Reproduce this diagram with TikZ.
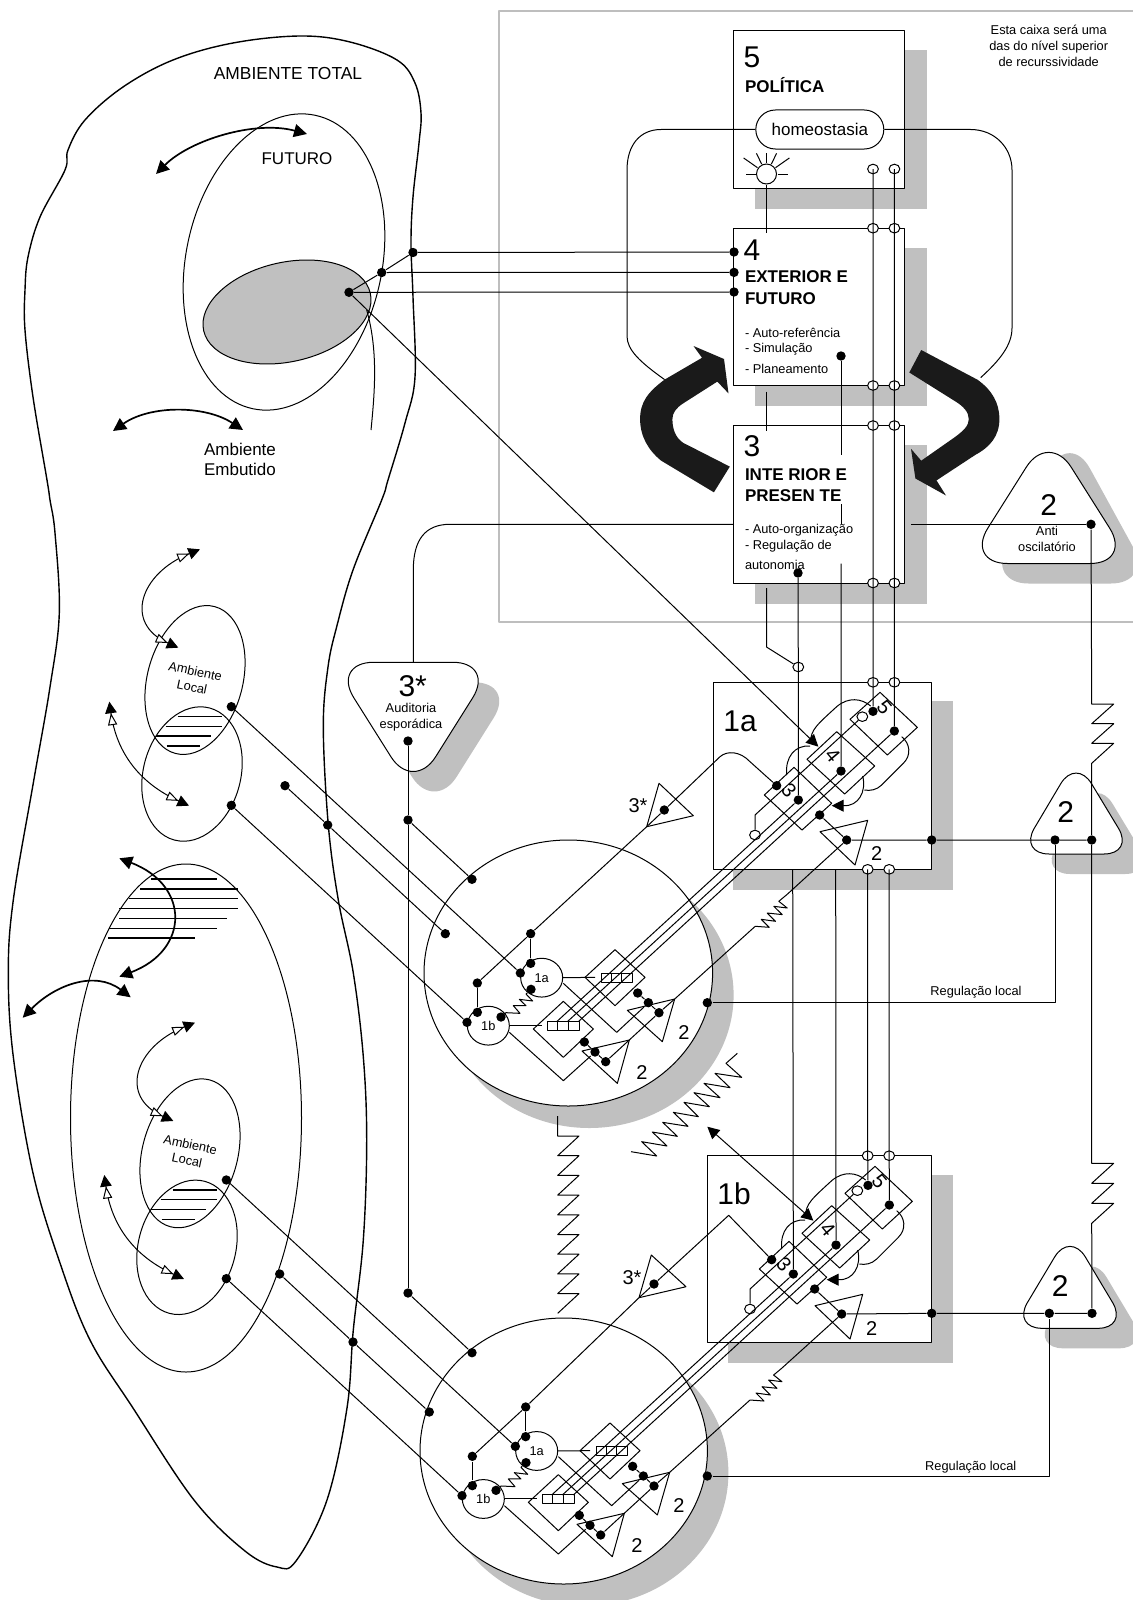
\documentclass[tikz,border=0pt]{standalone}
\usepackage{fontspec}
\setmainfont{Liberation Sans}
\usetikzlibrary{arrows.meta,shapes.geometric,shapes.misc,calc}
\definecolor{shadegray}{HTML}{C0C0C0}
\definecolor{frameline}{HTML}{BEBEBE}
\definecolor{blackarrow}{HTML}{1A1A1A}
\tikzset{
  zscope/.style 2 args={shift={(#1,#2)},x=0.166667pt,y=-0.166667pt},
  dotb/.style={circle,fill=black,inner sep=0pt,minimum size=4.7pt},
  ocirc/.style={ellipse,draw,fill=white,inner sep=0pt,minimum width=5.4pt,minimum height=4.8pt},
  shadow/.style={fill=shadegray,draw=none},
  boxw/.style={draw,fill=white},
  bignum/.style={font=\fontsize{15}{15}\selectfont,inner sep=0pt},
  midnum/.style={font=\fontsize{10}{10}\selectfont,inner sep=0pt},
  boldlab/.style={font=\fontsize{8.5}{10}\selectfont\bfseries,inner sep=0pt,anchor=west},
  smalltxt/.style={font=\fontsize{6.4}{8}\selectfont,inner sep=0pt},
  largetxt/.style={font=\fontsize{8.5}{10}\selectfont,inner sep=0pt},
  headb/.style={-{Triangle[length=6pt,width=6pt]}},
  dbl/.style={{Triangle[length=5.8pt,width=5.8pt,fill=black]Triangle[length=6pt,width=4.6pt,fill=white]}-{Triangle[length=6pt,width=4.6pt,fill=white]Triangle[length=5.8pt,width=5.8pt,fill=black]}},
  thick2/.style={line width=0.85pt,{Triangle[length=6.5pt,width=6.5pt]}-{Triangle[length=6.5pt,width=6.5pt]}},
  roundtri/.style={draw,fill=white,rounded corners=15pt},
  roundtrib/.style={draw,fill=white,rounded corners=21pt},
  shadetri/.style={shadow,rounded corners=15pt},
  shadetrib/.style={shadow,rounded corners=21pt},
}
% contents of box 1a / 1b
\newcommand\boxinner{%
\begin{scope}[zscope={640}{640}]
\draw (720,157)--(832,262)--(742,345)--(630,238)--cycle;
\draw (590,275)--(704,378)--(614,462)--(501,358)--cycle;
\draw (462,382)--(575,490)--(486,570)--(373,465)--cycle;
\draw (540,575)--(683,541)--(645,675)--cycle;
\node[ocirc] (o5) at (667,230) {};
\node[ocirc] (o3) at (345,585) {};
\node[dotb] (d5a) at (699,214) {};
\node[dotb] (d5b) at (763,273) {};
\node[dotb] (d4) at (603,393) {};
\node[dotb] (d3a) at (475,480) {};
\node[dotb] (d3b) at (410,437) {};
\node[dotb] (d2t) at (539,525) {};
\node[dotb] (d2) at (620,600) {};
\coordinate (tip4) at (535,320);
\coordinate (bend3) at (345,525);
\draw (o5)--(bend3)--(o3);
\draw (d2t)--(d2);
\draw (512,305) .. controls (512,270) and (530,255) .. (590,200) .. controls (625,170) and (665,175) .. (692,198);
\draw (785,290) .. controls (810,310) and (815,345) .. (790,370) -- (725,435) .. controls (710,450) and (690,453) .. (673,450);
\draw (440,405) .. controls (435,350) and (465,315) .. (510,318);
\draw[headb] (668,408) .. controls (680,455) and (655,500) .. (610,497) -- (575,497);
\node[font=\fontsize{10}{10}\selectfont,inner sep=0pt,rotate=-50] (n5) at (733,203) {5};
\node[font=\fontsize{10}{10}\selectfont,inner sep=0pt,rotate=-50] (n4) at (578,347) {4};
\node[font=\fontsize{10}{10}\selectfont,inner sep=0pt,rotate=-50] (n3) at (447,452) {3};
\node[midnum] (n2) at (710,642) {2};
\end{scope}}
% contents of the round unit
\newcommand\circleinner{%
\begin{scope}[zscope={420}{840}]
\node[ellipse,draw,fill=white,inner sep=0pt,minimum width=21pt,minimum height=19.4pt,font=\fontsize{6.4}{8}\selectfont] (ca) at (365,413) {1a};
\node[ellipse,draw,fill=white,inner sep=0pt,minimum width=21pt,minimum height=19.4pt,font=\fontsize{6.4}{8}\selectfont] (cb) at (205,557) {1b};
\draw (585,329)--(675,412)--(585,497)--(495,412)--cycle;
\draw (430,484)--(520,567)--(430,652)--(340,567)--cycle;
\draw (ca.east)--(525,412);
\draw (cb.east)--(365,557);
\draw (543,400) rectangle (574.3,427) (574.3,400) rectangle (605.7,427) (605.7,400) rectangle (637,427);
\draw (382,544) rectangle (413.7,571) (413.7,544) rectangle (445.3,571) (445.3,544) rectangle (477,571);
\coordinate (s1) at (410,545);
\coordinate (s2) at (442,545);
\coordinate (s3) at (475,545);
\draw (430,430)--(590,577)--(672,501);
\draw (268,577)--(430,722)--(512,648);
\draw (622,511)--(764,477)--(727,605)--cycle;
\draw (486,633)--(628,600)--(592,730)--cycle;
\coordinate (trtop) at (764,477);
\node[dotb] (u1) at (653,459) {};
\node[dotb] (u2) at (685,488) {};
\node[dotb] (u3) at (717,518) {};
\node[dotb] (l1) at (493,606) {};
\node[dotb] (l2) at (525,636) {};
\node[dotb] (l3) at (557,665) {};
\draw (u1)--(u2)--(u3);
\draw (l1)--(l2)--(l3);
\draw (l3)--(u3);
\draw (u3)--(trtop);
\node[dotb] (a1) at (332,370) {};
\node[dotb] (a2) at (301,399) {};
\node[dotb] (a3) at (333,448) {};
\node[dotb] (b1) at (172,517) {};
\node[dotb] (b2) at (141,547) {};
\node[dotb] (b3) at (243,531) {};
\node[dotb] (t1) at (332,281) {};
\node[dotb] (t2) at (172,429) {};
\draw (t1)--(a1);
\draw (t2)--(b1);
\draw (t2)--(t1);
\draw (b3) -- (258,518) -- (300,520) -- (280,497) -- (318,497) -- (298,478) -- (338,483) -- (318,462) -- (a3);
\node[midnum] (n2u) at (792,576) {2};
\node[midnum] (n2l) at (666,696) {2};
\end{scope}}
% local environment pair
\newcommand\localenv{%
\begin{scope}[zscope={0}{500}]
\draw (585,540) ellipse [x radius=143,y radius=228,rotate=-15];
\draw (576,822) ellipse [x radius=146,y radius=205,rotate=-15];
\draw[line width=0.7pt] (533,650)--(665,650) (497,679)--(665,679) (468,708)--(633,708) (500,738)--(600,738);
\node[smalltxt,align=center,rotate=-12] (amb) at (581,537) {Ambiente\\Local};
\draw[dbl] (600,148) .. controls (420,220) and (370,370) .. (535,443);
\draw[dbl] (328,605) .. controls (350,760) and (420,850) .. (567,917);
\node[dotb] (dl1) at (694,620) {};
\node[dotb] (dl2) at (694,916) {};
\end{scope}}

\begin{document}
\begin{tikzpicture}[x=0.5pt,y=-0.5pt,line width=0.5pt,line join=round]
\useasboundingbox (0,0) rectangle (1133,1600);
\clip (0,0) rectangle (1133,1600);
\fill[white] (0,0) rectangle (1133,1600);

% frame
\draw[frameline,line width=1.3pt] (1140,11) -- (499,11) -- (499,622) -- (1140,622);

% shadows
\fill[shadow] (755.3,49.8) rectangle (927,208.8);
\fill[shadow] (755.3,248) rectangle (927,406);
\fill[shadow] (755.3,444.8) rectangle (927,603.8);
\fill[shadow] (733.3,701) rectangle (953,890);
\fill[shadow] (728.3,1175) rectangle (953,1363.3);
\fill[shadow] (589.3,995) ellipse [x radius=144.3,y radius=133];
\fill[shadow] (584.7,1473) ellipse [x radius=143.7,y radius=133];
\fill[shadetrib] (1069.7,431.6) -- (986.5,583.5) -- (1153,583.5) -- cycle;
\fill[shadetrib] (352.5,682.3) -- (516,682.3) -- (434.3,812.3) -- cycle;
\fill[shadetri] (1097,778) -- (1040,874) -- (1155,874) -- cycle;
\fill[shadetri] (1091,1251.3) -- (1033,1348.3) -- (1149,1348.3) -- cycle;

% total environment
\draw[line width=0.7pt] plot[smooth cycle,tension=0.6] coordinates {
(65,170)(68,150)(85,120)(123,87)(173,60)(233,43)(300,36)(350,42)(397,60)(415,83)(421,113)(419,143)(413,197)(411,243)(413,297)(415,377)(405,423)(388,480)(381.7,500)(353,570)(336.7,626.7)(328,667)(323.3,726.7)(328.3,825)(338.3,900)(353.3,973)(363.3,1056.7)(366.7,1140)(363.3,1240)(353.3,1330)(347,1408)(327,1500)(296,1561)(277,1567)(245,1551)(194,1500)(133,1408)(90,1340)(60,1263)(33,1173)(13.3,1056.7)(8.3,973)(13.3,900)(33.3,783)(50,687)(59.3,613)(55,533)(50,500)(47,480)(33,397)(25,330)(25,290)(28,257)(40,217)};

% future and embedded environment
\draw (284,262) ellipse [x radius=98,y radius=150,rotate=-12];
\draw[fill=shadegray] (287,312) ellipse [x radius=85.4,y radius=49.7,rotate=12.7];
\draw (366.7,310) .. controls (378,350) and (375,390) .. (371,430);
\draw[thick2] (156,174) .. controls (190,140) and (255,120) .. (307,134);
\draw[thick2] (113,431) .. controls (150,405) and (205,405) .. (243,430);
\node[largetxt,font=\fontsize{8.7}{10}\selectfont] (tot) at (288,74) {AMBIENTE TOTAL};
\node[largetxt] (fut) at (297,159) {FUTURO};
\node[largetxt,align=center,font=\fontsize{8.5}{10.4}\selectfont] (emb) at (240,459.5) {Ambiente\\Embutido};

% lower large ellipse, hatching and arrows
\draw (186,1118) ellipse [x radius=115.5,y radius=254];
\begin{scope}[zscope={0}{840}]
\draw[line width=0.7pt] (453,117)--(650,117) (420,147)--(713,147) (388,176)--(713,176) (358,206)--(713,206) (358,236)--(680,236) (326,266)--(650,266) (324,294)--(585,294);
\end{scope}
\draw[thick2] (119.3,858.3) .. controls (190,885) and (190,950) .. (119.3,976.7);
\draw[thick2] (22.7,1017.7) .. controls (55,985) and (95,970) .. (130.7,997.3);

\begin{scope}[name prefix=la-]
\localenv
\end{scope}
\begin{scope}[name prefix=lb-,shift={(-5,473.3)}]
\localenv
\end{scope}

% boxes
\draw[boxw] (733.6,30.4) rectangle (904.9,188.2);
\draw[boxw] (733.6,228.2) rectangle (904.9,385.5);
\draw[boxw] (733.6,425.5) rectangle (904.9,583);
\draw[boxw] (713,682.3) rectangle (931.7,869.3);
\draw[boxw] (707.3,1155.7) rectangle (931.7,1342.7);

% round units
\draw[boxw] (568.3,973) ellipse [x radius=144.3,y radius=133];
\draw[boxw] (563.7,1451) ellipse [x radius=143.7,y radius=133];
\begin{scope}[name prefix=ca-]
\circleinner
\end{scope}
\begin{scope}[name prefix=cb-,shift={(-5,473.3)}]
\circleinner
\end{scope}
\begin{scope}[name prefix=a-]
\boxinner
\end{scope}
\begin{scope}[name prefix=b-,shift={(-5,474)}]
\boxinner
\end{scope}

% feedback triangles
\draw[roundtrib] (1048.7,431.6) -- (965.5,563.5) -- (1132,563.5) -- cycle;
\draw[roundtrib] (331.5,662.3) -- (495,662.3) -- (413.3,792.3) -- cycle;
\draw[roundtri] (1076,758) -- (1019,854) -- (1134,854) -- cycle;
\draw[roundtri] (1070,1231.3) -- (1012,1328.3) -- (1128,1328.3) -- cycle;

% text of boxes
\node[bignum] (t5) at (752,57) {5};
\node[boldlab] (pol) at (744.5,85.5) {POLÍTICA};
\node[bignum] (t4) at (752,250) {4};
\node[boldlab] (ext1) at (744.5,277) {EXTERIOR E};
\node[boldlab] (ext2) at (744.5,298.5) {FUTURO};
\node[smalltxt,anchor=west] (r1) at (744.5,333) {- Auto-referência};
\node[smalltxt,anchor=west] (r2) at (744.5,349.5) {- Simulação};
\node[smalltxt,anchor=west] (r3) at (744.5,368.5) {- Planeamento};
\node[bignum] (t3) at (752,446) {3};
\node[boldlab] (int1) at (744.5,474.5) {INTE RIOR E};
\node[boldlab] (int2) at (744.5,495.5) {PRESEN TE};
\node[smalltxt,anchor=west] (q1) at (744.5,530.6) {- Auto-organização};
\node[smalltxt,anchor=west] (q2) at (744.5,546.4) {- Regulação de};
\node[smalltxt,anchor=west] (q3) at (744.5,565.4) {autonomia};
\node[smalltxt,align=center] (note) at (1048.7,45.5) {Esta caixa será uma\\das do nível superior\\de recurssividade};
\node[bignum] (t2anti) at (1048.7,505) {2};
\node[smalltxt,align=center] (anti) at (1047,538.5) {Anti\\oscilatório};
\node[bignum] (t3s) at (412.7,686) {3*};
\node[smalltxt,align=center] (aud) at (411,716.7) {Auditoria\\esporádica};
\node[bignum] (t2a) at (1065.7,812.3) {2};
\node[bignum] (t2b) at (1060.3,1286) {2};
\node[font=\fontsize{15}{15}\selectfont,inner sep=0pt] (t1a) at (740,721) {1a};
\node[font=\fontsize{15}{15}\selectfont,inner sep=0pt] (t1b) at (734,1194) {1b};
\node[midnum] (st1) at (638,806) {3*};
\node[midnum] (st2) at (632,1278) {3*};
\node[smalltxt] (rl1) at (976,992) {Regulação local};
\node[smalltxt] (rl2) at (970.7,1466.7) {Regulação local};

% homeostasis loops
\node[rounded rectangle,draw,fill=white,inner sep=0pt,minimum width=64pt,minimum height=19.5pt,largetxt] (homeo) at (819.8,129.5) {homeostasia};
\draw (homeo.west) -- (661,129.5) .. controls (640,129.5) and (627,145) .. (627,170) -- (627,336) .. controls (627,350) and (640,362) .. (664.6,379.6);
\draw (homeo.east) -- (970.5,129.5) .. controls (995,129.5) and (1012,148) .. (1012,170) -- (1012,328) .. controls (1012,345) and (1000,360) .. (980.7,377.6);

% sun
\node[ellipse,draw,fill=white,inner sep=0pt,minimum width=10pt,minimum height=10pt] (sun) at (766.5,174) {};
\foreach \a/\l in {0/21,35/28,64/23,90/21,116/23,145/28,180/21} {\draw ($(sun.center)+(-\a:11)$) -- ($(sun.center)+(-\a:\l)$);}
\draw (sun.south) -- (766.5,233);
\draw (766.5,391.5) -- (766.5,431);
\coordinate (k3) at (766.5,647);
\node[ocirc] (o1a) at (798.3,667) {};
\draw (766.5,588) -- (k3) -- (o1a);

% black circular arrows
\fill[blackarrow] (729.8,466.6) -- (713.9,492.3) -- (661.2,460.7) .. controls (648,450) and (640.1,436) .. (640.1,419.1) .. controls (640.1,402) and (648,392) .. (664.6,379.6) -- (702,357.8) -- (693.5,346) -- (724,359) -- (728.5,393.4) -- (717.3,381.6) -- (683.3,403.3) .. controls (676,408) and (672.4,413) .. (672.4,419.1) .. controls (672.4,430) and (676,438) .. (683.3,442.9) -- cycle;
\fill[blackarrow] (921.2,350) -- (977.3,379.6) .. controls (992,390) and (999.4,403) .. (999.4,419.1) .. controls (999.4,436) and (990,447) .. (975.6,454.7) -- (936.5,480.4) -- (946,495.5) -- (915.4,478.5) -- (911,448.8) -- (921.2,460.7) -- (955.2,436.9) .. controls (963,431) and (968.8,426) .. (968.8,419.1) .. controls (968.8,412) and (963,406) .. (955.2,401.3) -- (909.3,372.5) -- cycle;

% intersystem dots
\node[dotb] (in1) at (734,252) {};
\node[dotb] (in2) at (734,272.4) {};
\node[dotb] (in3) at (734,292) {};
\node[dotb] (ou1) at (413,252.5) {};
\node[dotb] (ou2) at (381.7,272.5) {};
\node[dotb] (ou3) at (349,292.3) {};
\draw (ou1)--(in1);
\draw (ou2)--(in2);
\draw (ou3)--(in3);
\draw (ou1)--(ou2)--(ou3);

% command channels, system five down
\node[ocirc] (c1) at (873,169) {};
\node[ocirc] (c2) at (894.4,169) {};
\foreach \n/\y in {t/228.2,u/385.5,v/425.5,w/583} {
  \node[ocirc] (c1\n) at (873,\y) {};
  \node[ocirc] (c2\n) at (894.4,\y) {};
}
\node[ocirc] (c1x) at (873,682.3) {};
\node[ocirc] (c2x) at (894.4,682.3) {};
\draw (c1.center)--(c1t.center)--(c1u.center)--(c1v.center)--(c1w.center)--(c1x.center)--(a-d5a);
\draw (c2.center)--(c2t.center)--(c2u.center)--(c2v.center)--(c2w.center)--(c2x.center)--(a-d5b);
\node[ocirc] (e1) at (867.7,869.3) {};
\node[ocirc] (e2) at (889.2,869.3) {};
\node[ocirc] (f1) at (867.7,1155.7) {};
\node[ocirc] (f2) at (889.2,1155.7) {};
\draw (e1.center)--(f1.center)--(b-d5a);
\draw (e2.center)--(f2.center)--(b-d5b);

% channels from 3 and 4
\node[dotb] (p4) at (841,356) {};
\node[dotb] (p3) at (798,573) {};
\draw (p3)--(o1a.center)--(a-d3a);
\draw (p4)--(841,454.7);
\draw (841,504)--(841,524);
\draw (841,563.5)--(a-d4);
\coordinate (x3) at (792.7,869.3);
\coordinate (x4) at (835.7,869.3);
\draw (x3)--(b-d3a);
\draw (x4)--(b-d4);

% three parallel lines
\draw (ca-s1)--(a-d3a);
\draw (ca-s2)--(a-d4);
\draw (ca-s3)--(a-d5b);
\draw (cb-s1)--(b-d3a);
\draw (cb-s2)--(b-d4);
\draw (cb-s3)--(b-d5b);

% long arrows
\draw[headb] (ou3)--(a-tip4);
\coordinate (freetip) at (707.3,1126.7);
\draw[{Triangle[length=6pt,width=6pt]}-{Triangle[length=6pt,width=6pt]}] (freetip)--(b-tip4);

% 3 to right
\coordinate (y3) at (911,524.3);
\node[dotb] (dAnti) at (1091,524.3) {};
\draw (y3)--(dAnti);
\coordinate (y4) at (733.6,524.3);
\coordinate (y5) at (413.3,662.3);
\draw (y4) -- (450,524.3) .. controls (425,524.3) and (413.3,540) .. (413.3,570) -- (y5);

% audit line
\node[dotb] (aud1) at (408,741) {};
\node[dotb] (aud2) at (408,820) {};
\node[dotb] (aud3) at (408,1293) {};
\node[dotb] (oa1) at (472,879.3) {};
\node[dotb] (oa2) at (445.3,933.7) {};
\node[dotb] (oa3) at (707.3,1002.7) {};
\node[dotb] (ob1) at (472,1352.7) {};
\node[dotb] (ob2) at (429.3,1412) {};
\node[dotb] (ob3) at (707.3,1476) {};
\draw (aud1)--(aud2)--(aud3);
\draw (aud2)--(oa1);
\draw (aud3)--(ob1);

% environment links
\node[dotb] (fr1) at (285,785.7) {};
\node[dotb] (fr2) at (327.7,825) {};
\node[dotb] (fr3) at (279.7,1274) {};
\node[dotb] (fr4) at (353,1342) {};
\draw (la-dl1)--(ca-a2);
\draw (la-dl2)--(ca-b2);
\draw (fr1)--(fr2)--(oa2);
\draw (lb-dl1)--(cb-a2);
\draw (lb-dl2)--(cb-b2);
\draw (fr3)--(fr4)--(ob2);

% 3* triangles
\draw (659,783.3)--(693.3,815.7)--(646.7,826.7)--cycle;
\node[dotb] (s3a) at (664.3,810) {};
\coordinate (s3ac) at (646.7,826.7);
\draw (s3a)--(s3ac)--(ca-t1);
\draw (s3a) -- (720,756.7) .. controls (727,750.5) and (740,751) .. (750,761.7) -- (a-d3b);
\draw (651.3,1255)--(686,1286.7)--(639,1297.7)--cycle;
\node[dotb] (s3b) at (654,1284) {};
\coordinate (s3bc) at (639,1297.7);
\coordinate (s3bk) at (728.7,1215.3);
\draw (s3b)--(s3bc)--(cb-t1);
\draw (s3b)--(s3bk)--(b-d3b);

% algedonic / local regulation
\node[dotb] (edge1) at (931.7,840) {};
\node[dotb] (tri1a) at (1055,840) {};
\node[dotb] (tri1b) at (1091.7,840) {};
\node[dotb] (edge2) at (931.7,1313.3) {};
\node[dotb] (tri2a) at (1049.3,1313.3) {};
\node[dotb] (tri2b) at (1092,1313.3) {};
\draw (a-d2)--(edge1)--(tri1a)--(tri1b);
\draw (b-d2)--(edge2)--(tri2a)--(tri2b);
\draw (oa3)--(1055,1002.7)--(tri1a);
\draw (ob3)--(1049.3,1476)--(tri2a);
\draw (dAnti)--(1091.7,704)--(1113.7,704)--(1091.7,723.7)--(1113.7,723.7)--(1091.7,743.3)--(1113.7,743.3)--(1091.7,763.3)--(tri1b);
\draw (tri1b)--(1091.7,1163.3)--(1113.7,1163.3)--(1091.7,1183.3)--(1113.7,1183.3)--(1091.7,1203.3)--(1113.7,1203.3)--(1091.7,1223.3)--(tri2b);

% springs
\draw (a-d2) -- (787.2,894.3) -- ++(-8.4,7) -- ++(8.4,6.7) -- ++(-13.4,-1.7) -- ++(8.4,8.3) -- ++(-15,-1.6) -- ++(8.3,8.3) -- ++(-14.3,-2) -- ++(8,8) -- ++(-14,-1) -- (ca-trtop);
\draw (b-d2) -- (782,1368) -- ++(-8.4,7) -- ++(8.4,6.7) -- ++(-13.4,-1.7) -- ++(8.4,8.3) -- ++(-15,-1.6) -- ++(8.3,8.3) -- ++(-14.3,-2) -- ++(8,8) -- ++(-14,-1) -- (cb-trtop);
\draw (557.7,1116) -- (557.7,1136) \foreach \k in {0,...,8} { -- (579,{1136+19.7*\k}) -- (557.7,{1155.7+19.7*\k}) };
\begin{scope}[zscope={540}{1050}]
\draw (592,10)--(558,40)--(605,82)--(525,70)--(570,113)--(492,100)--(540,143)--(462,128)--(508,170)--(432,157)--(475,200)--(400,187)--(444,229)--(368,217)--(412,259)--(337,246)--(381,288)--(305,275)--(350,318)--(273,305);
\end{scope}
\end{tikzpicture}
\end{document}
